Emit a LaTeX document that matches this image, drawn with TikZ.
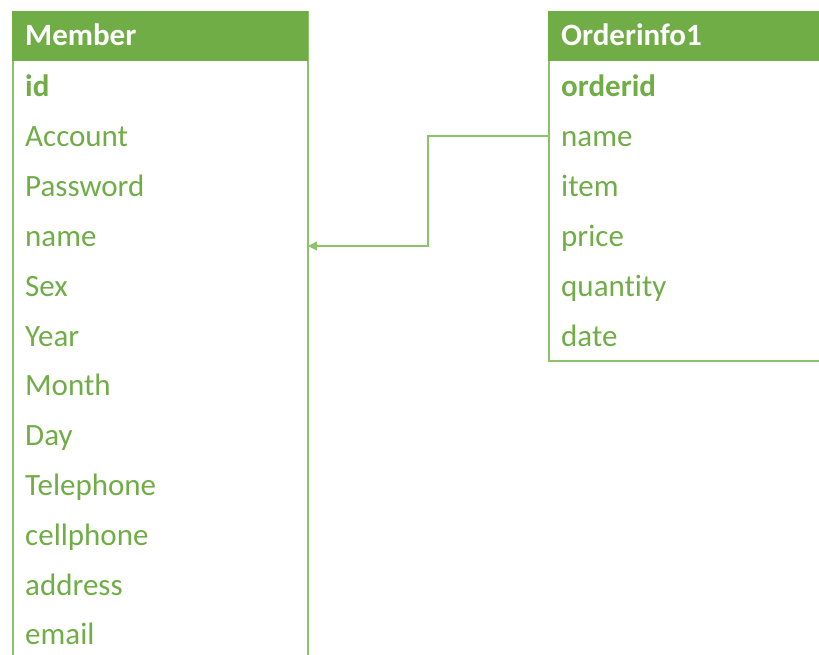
\documentclass[tikz,border=0pt]{standalone}
\usepackage{fontspec}
\setmainfont[Ligatures=CommonOff]{Carlito}
\usetikzlibrary{arrows.meta}
\definecolor{eg}{HTML}{70AD47}
\definecolor{egl}{HTML}{8CC26A}
\begin{document}
\begin{tikzpicture}[x=1pt,y=-1pt,
  tbox/.style={draw=egl, line width=2pt, inner sep=0pt, anchor=north west},
  thead/.style={fill=eg, draw=eg, line width=1pt, inner sep=0pt, anchor=north west},
  field/.style={anchor=base west, text=eg, inner sep=0pt, font=\fontsize{31}{37}\selectfont},
  keyfield/.style={field, font=\fontsize{31}{37}\selectfont\bfseries},
  ttitle/.style={anchor=base west, text=white, inner sep=0pt, font=\fontsize{31}{37}\selectfont\bfseries},
  conn/.style={draw=egl, line width=1.3pt, -{Triangle[length=9pt,width=9pt]}}]
\useasboundingbox (0,0) rectangle (819,655);
\clip (0,0) rectangle (819,655);
% Member table
\node[tbox, minimum width=295pt, minimum height=670pt] (mbox) at (12,11) {};
\node[thead, minimum width=295pt, minimum height=49pt] (mhead) at (12,11) {};
\node[ttitle] (mtitle) at (25,46) {Member};
\node[keyfield] (m0) at (25,97) {id};
\foreach \t [count=\i] in {Account,Password,name,Sex,Year,Month,Day,Telephone,cellphone,address,email}
  \node[field] (m\i) at (25,{97+49.8*\i}) {\t};
% Orderinfo1 table
\node[tbox, minimum width=300pt, minimum height=349pt] (obox) at (548,11) {};
\node[thead, minimum width=300pt, minimum height=49pt] (ohead) at (548,11) {};
\node[ttitle] (otitle) at (561,46) {Orderinfo1};
\node[keyfield] (o0) at (561,97) {orderid};
\foreach \t [count=\i] in {name,item,price,quantity,date}
  \node[field] (o\i) at (561,{97+49.8*\i}) {\t};
% connector
\coordinate (src) at (548,136);
\coordinate (bend) at (428,190);
\coordinate (dst) at (308,246);
\draw[conn] (src) -| (bend) |- (dst);
\end{tikzpicture}
\end{document}
